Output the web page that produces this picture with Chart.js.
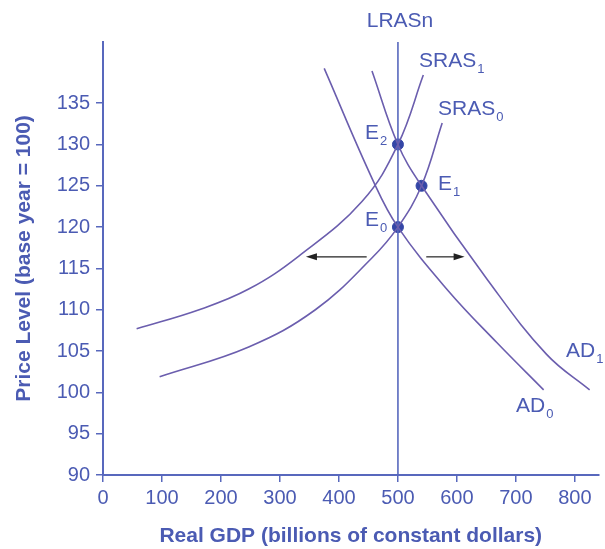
<!DOCTYPE html>
<html>
<head>
<meta charset="utf-8">
<script src="https://cdn.jsdelivr.net/npm/chart.js@4.4.1/dist/chart.umd.min.js"></script>
<style>
  html, body { margin: 0; padding: 0; background: #fff; }
  #wrap { width: 605px; height: 549px; }
</style>
</head>
<body>
<div id="wrap"><canvas id="adas"></canvas></div>
<script>
// data: [real GDP, price level]
const sras0 = [[96, 101.9], [247, 105.5], [360, 110], [455, 116.2], [500, 120], [540, 125], [575, 132.6]];
const sras1 = [[57, 107.7], [163, 110], [247, 112.5], [332, 116.5], [439, 123.1], [500, 130], [543, 138.4]];
const ad0   = [[375, 139.2], [458, 125.6], [500, 120], [584, 112.4], [668, 106], [747, 100.3]];
const ad1   = [[456, 138.9], [500, 130], [540, 125], [652, 113.6], [752, 104.6], [825, 100.3]];
const lras  = [[500, 90], [500, 142.4]];
const equilibria = [[500, 120], [540, 125], [500, 130]];   // E0, E1, E2
const shiftArrows = [[[447, 116.4], [344, 116.4]], [[548, 116.4], [613, 116.4]]];
const xTicks = [0, 100, 200, 300, 400, 500, 600, 700, 800];
const yTicks = [90, 95, 100, 105, 110, 115, 120, 125, 130, 135];

const AXIS = '#5868bd';
const TEXT = '#4b5bb3';
const CURVE = '#6b5eae';
const DOT = '#3446a6';
const FONT = '"Liberation Sans", Arial, sans-serif';

const pts = arr => arr.map(([x, y]) => ({ x, y }));

function curve(data) {
    return {
        data: pts(data), showLine: true, borderColor: CURVE, borderWidth: 1.6,
        pointRadius: 0, tension: 0.4, fill: false
    };
}

// curve names, with subscripts
const labels = [
    { t: 'LRASn', s: '',  x: 400, y: 21, align: 'center' },
    { t: 'SRAS',  s: '1', x: 419, y: 61 },
    { t: 'SRAS',  s: '0', x: 438, y: 109 },
    { t: 'E',     s: '2', x: 365, y: 133 },
    { t: 'E',     s: '1', x: 438, y: 184 },
    { t: 'E',     s: '0', x: 365, y: 220 },
    { t: 'AD',    s: '1', x: 566, y: 351 },
    { t: 'AD',    s: '0', x: 516, y: 406 }
];

const annotate = {
    id: 'annotate',
    afterDatasetsDraw(chart) {
        const { ctx, scales: { x, y } } = chart;
        ctx.save();
        // shift arrows
        ctx.strokeStyle = '#222';
        ctx.fillStyle = '#222';
        ctx.lineWidth = 1.2;
        shiftArrows.forEach(([a, b]) => {
            const x1 = x.getPixelForValue(a[0]), y1 = y.getPixelForValue(a[1]);
            const x2 = x.getPixelForValue(b[0]), y2 = y.getPixelForValue(b[1]);
            const dir = Math.sign(x2 - x1);
            ctx.beginPath();
            ctx.moveTo(x1, y1);
            ctx.lineTo(x2 - dir * 8, y2);
            ctx.stroke();
            ctx.beginPath();
            ctx.moveTo(x2, y2);
            ctx.lineTo(x2 - dir * 11, y2 - 3.5);
            ctx.lineTo(x2 - dir * 11, y2 + 3.5);
            ctx.closePath();
            ctx.fill();
        });
        // text labels
        ctx.fillStyle = TEXT;
        ctx.textBaseline = 'middle';
        ctx.textAlign = 'left';
        labels.forEach(l => {
            ctx.font = '21px ' + FONT;
            const w = ctx.measureText(l.t).width;
            const left = l.align === 'center' ? l.x - w / 2 : l.x;
            ctx.fillText(l.t, left, l.y);
            if (l.s) {
                ctx.font = '13px ' + FONT;
                ctx.fillText(l.s, left + w + 1, l.y + 8);
            }
        });
        ctx.restore();
    }
};

new Chart(document.getElementById('adas'), {
    type: 'scatter',
    data: {
        datasets: [
            curve(sras0),
            curve(sras1),
            curve(ad0),
            curve(ad1),
            { ...curve(lras), tension: 0, borderColor: AXIS },
            { data: pts(equilibria), pointRadius: 5.5, pointBackgroundColor: DOT, pointBorderColor: DOT, showLine: false }
        ]
    },
    options: {
        responsive: true,
        maintainAspectRatio: false,
        animation: false,
        layout: { padding: { top: 42, right: 4, left: 0, bottom: 0 } },
        plugins: { legend: { display: false }, tooltip: { enabled: false } },
        scales: {
            x: {
                type: 'linear', min: 0, max: 840,
                afterFit: s => { s.height = 74; },
                afterBuildTicks: s => { s.ticks = xTicks.map(v => ({ value: v })); },
                border: { color: AXIS, width: 2 },
                grid: { drawOnChartArea: false, drawTicks: true, tickLength: 7, color: AXIS, lineWidth: 1.5 },
                ticks: { color: TEXT, padding: 4, font: { size: 20, family: FONT }, maxRotation: 0 },
                title: {
                    display: true, text: 'Real GDP (billions of constant dollars)', color: TEXT,
                    font: { size: 21, weight: 'bold', family: FONT },
                    padding: { top: 0, bottom: 0 }
                }
            },
            y: {
                type: 'linear', min: 90, max: 142.4,
                afterFit: s => { s.width = 103; },
                afterBuildTicks: s => { s.ticks = yTicks.map(v => ({ value: v })); },
                border: { color: AXIS, width: 2 },
                grid: { drawOnChartArea: false, drawTicks: true, tickLength: 7, color: AXIS, lineWidth: 1.5 },
                ticks: { color: TEXT, padding: 6, font: { size: 20, family: FONT } },
                title: {
                    display: true, text: 'Price Level (base year = 100)', color: TEXT,
                    font: { size: 21, weight: 'bold', family: FONT },
                    padding: { top: 12, bottom: 0 }
                }
            }
        }
    },
    plugins: [annotate]
});
</script>
</body>
</html>
